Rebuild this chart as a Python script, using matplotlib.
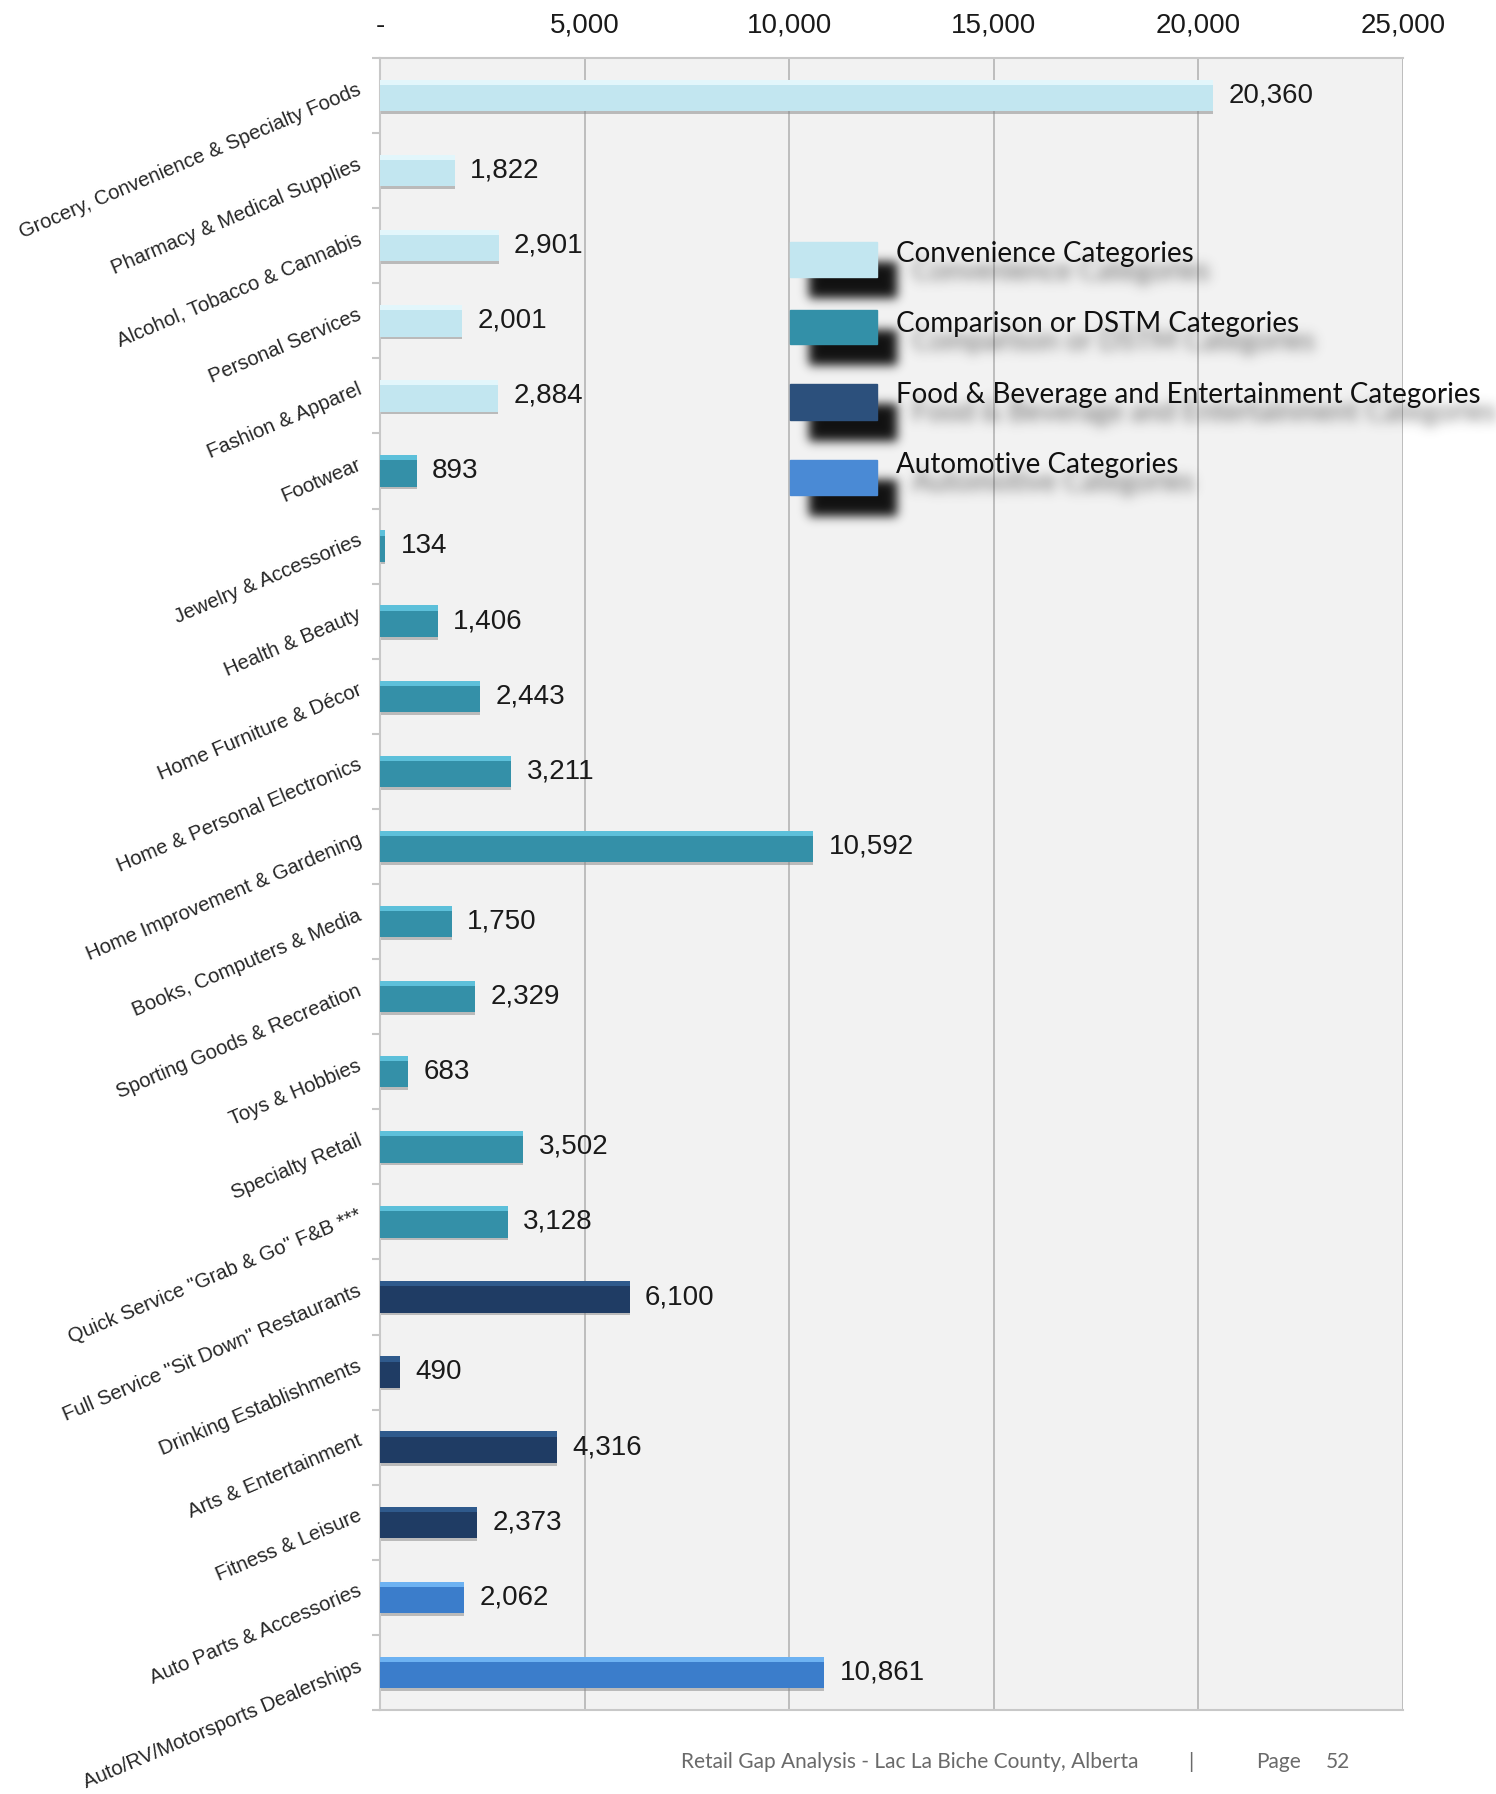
import numpy as np
import matplotlib
matplotlib.use("Agg")
import matplotlib.pyplot as plt
from matplotlib.patches import Rectangle
from matplotlib.ticker import FuncFormatter
from matplotlib.transforms import ScaledTranslation

categories = [
    "Grocery, Convenience & Specialty Foods",
    "Pharmacy & Medical Supplies",
    "Alcohol, Tobacco & Cannabis",
    "Personal Services",
    "Fashion & Apparel",
    "Footwear",
    "Jewelry & Accessories",
    "Health & Beauty",
    "Home Furniture & Décor",
    "Home & Personal Electronics",
    "Home Improvement & Gardening",
    "Books, Computers & Media",
    "Sporting Goods & Recreation",
    "Toys & Hobbies",
    "Specialty Retail",
    "Quick Service \"Grab & Go\" F&B ***",
    "Full Service \"Sit Down\" Restaurants",
    "Drinking Establishments",
    "Arts & Entertainment",
    "Fitness & Leisure",
    "Auto Parts & Accessories",
    "Auto/RV/Motorsports Dealerships",
]
values = [20360, 1822, 2901, 2001, 2884, 893, 134, 1406, 2443, 3211, 10592,
          1750, 2329, 683, 3502, 3128, 6100, 490, 4316, 2373, 2062, 10861]
groups = [0] * 5 + [1] * 11 + [2] * 4 + [3] * 2
group_names = [
    "Convenience Categories",
    "Comparison or DSTM Categories",
    "Food & Beverage and Entertainment Categories",
    "Automotive Categories",
]
x_ticks = [0, 5000, 10000, 15000, 20000, 25000]

# body / top highlight / legend swatch per group
body_colors = ["#C2E6F0", "#3490A8", "#1F3C64", "#3B7DCB"]
top_colors = ["#E2F6FB", "#5DC0DA", "#2F5A8C", "#6DB2F2"]
legend_colors = ["#C2E6F0", "#3390A8", "#2C507C", "#4A8AD5"]

W, H = 1496, 1794


def fx(px):
    return px / W


def fy(py):
    return 1 - py / H


def gauss_blur(a, sigma):
    r = int(3 * sigma)
    t = np.arange(-r, r + 1)
    k = np.exp(-t ** 2 / (2 * sigma ** 2))
    k /= k.sum()
    a = np.apply_along_axis(lambda m: np.convolve(m, k, mode="same"), 0, a)
    a = np.apply_along_axis(lambda m: np.convolve(m, k, mode="same"), 1, a)
    return a


class DropShadow:
    def __init__(self, dx, dy, sigma, color, strength):
        self.dx, self.dy = dx, dy
        self.sigma = sigma
        self.color = color
        self.strength = strength

    def __call__(self, im, dpi):
        pad = int(3 * self.sigma + max(abs(self.dx), abs(self.dy))) + 2
        a = np.pad(im[..., 3], pad)
        a = np.roll(a, self.dx, axis=1)
        a = np.roll(a, self.dy, axis=0)
        a = np.clip(gauss_blur(a, self.sigma) * self.strength, 0, 1)
        out = np.zeros(a.shape + (4,))
        out[..., :3] = matplotlib.colors.to_rgb(self.color)
        out[..., 3] = a
        return out, -pad, -pad


fig = plt.figure(figsize=(W / 100, H / 100), dpi=100)
ax = fig.add_axes([fx(380), fy(1710), fx(1403) - fx(380), fy(58) - fy(1710)])
ax.set_facecolor("#F2F2F2")

y = np.arange(len(categories))
bh = 0.42
cols = [body_colors[g] for g in groups]
tops = [top_colors[g] for g in groups]

# soft shadow under each bar, then the bar, then a lighter top edge
ax.barh(y + 0.035, values, height=bh, color="#8c8c8c", alpha=0.55, zorder=2)
ax.barh(y, values, height=bh, color=cols, zorder=3)
ax.barh(y - bh / 2 + 0.035, values, height=0.07, color=tops, zorder=4)

for yi, v in zip(y, values):
    ax.annotate(f"{v:,}", (v, yi), xytext=(11, 0), textcoords="offset points",
                va="center", ha="left", fontsize=20, color="#1a1a1a",
                family="Liberation Sans")

ax.set_xlim(0, 25000)
ax.set_ylim(len(categories) - 0.5, -0.5)
ax.xaxis.tick_top()
ax.set_xticks(x_ticks)
ax.xaxis.set_major_formatter(FuncFormatter(lambda v, _: "-" if v == 0 else f"{v:,.0f}"))
ax.tick_params(axis="x", length=0, pad=14, labelsize=20, labelcolor="#1a1a1a")
for lab in ax.get_xticklabels():
    lab.set_family("Liberation Sans")
ax.grid(axis="x", color="#BDBDBD", linewidth=1.4, zorder=1)
ax.set_axisbelow(True)

ax.set_yticks(y)
ax.set_yticklabels(categories, rotation=23, ha="right", va="center",
                   rotation_mode="anchor", fontsize=14.6, color="#262626",
                   family="Liberation Sans")
ax.tick_params(axis="y", length=0, pad=14)
lift = ScaledTranslation(0, 7 / 100, fig.dpi_scale_trans)
for lab in ax.get_yticklabels():
    lab.set_transform(lab.get_transform() + lift)
ax.set_yticks(np.arange(-0.5, len(categories)), minor=True)
ax.tick_params(axis="y", which="minor", length=6, color="#C8C8C8", width=1.5)

for side in ["top", "bottom", "left"]:
    ax.spines[side].set_color("#C8C8C8")
    ax.spines[side].set_linewidth(1.5)
ax.spines["right"].set_visible(False)

# legend with blurred drop shadows
patch_rows = [(242, 277), (310, 344), (384, 420), (460, 495)]
text_rows = [254, 324, 395, 465]
for g, ((t, b), ty) in enumerate(zip(patch_rows, text_rows)):
    sh = Rectangle((fx(790), fy(b)), fx(877) - fx(790), fy(t) - fy(b),
                   transform=fig.transFigure, color="k", zorder=5)
    sh.set_agg_filter(DropShadow(19, 20, 5, "#111111", 1.0))
    fig.add_artist(sh)
    fig.add_artist(Rectangle((fx(790), fy(b)), fx(877) - fx(790), fy(t) - fy(b),
                             transform=fig.transFigure, color=legend_colors[g], zorder=6))
    tsh = fig.text(fx(896), fy(ty), group_names[g], fontsize=20, family="Lato",
                   va="center", ha="left", color="k", zorder=5)
    tsh.set_agg_filter(DropShadow(16, 18, 6, "#333333", 0.75))
    fig.text(fx(896), fy(ty), group_names[g], fontsize=20, family="Lato",
             va="center", ha="left", color="#111111", zorder=6)

footer_kw = dict(fontsize=15, family="Lato", color="#6a6a6a", va="center")
fig.text(fx(681), fy(1762), "Retail Gap Analysis - Lac La Biche County, Alberta", **footer_kw)
fig.text(fx(1188), fy(1762), "|", **footer_kw)
fig.text(fx(1256), fy(1762), "Page", **footer_kw)
fig.text(fx(1326), fy(1762), "52", **footer_kw)

fig.savefig("out.png", dpi=100, facecolor="white")
